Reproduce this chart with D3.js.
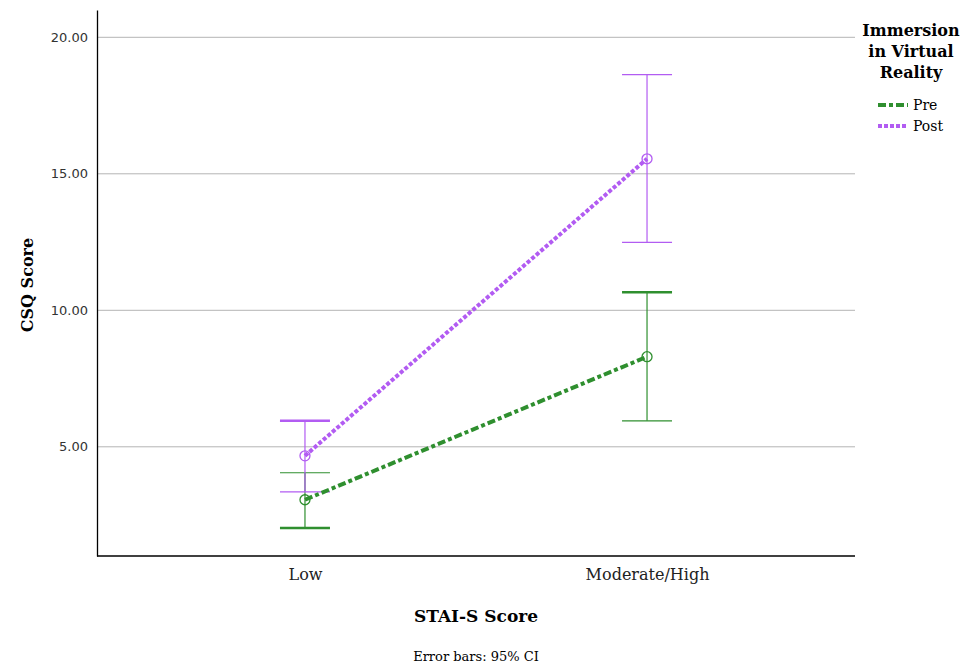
<!DOCTYPE html>
<html><head><meta charset="utf-8">
<script src="https://cdn.jsdelivr.net/npm/d3@7"></script>
<style>body{margin:0;background:#fff;}svg{display:block;}</style>
</head><body>
<script>
const categories = ["Low", "Moderate/High"];
const seriesNames = ["Pre", "Post"];
const preMean = [3.06, 8.30];
const preLow = [2.03, 5.95];
const preHigh = [4.05, 10.66];
const postMean = [4.67, 15.55];
const postLow = [3.35, 12.49];
const postHigh = [5.95, 18.63];
const yTicks = [5, 10, 15, 20];

(function () {
const W = 964, H = 666;
const SERIF = "DejaVu Serif, serif";
const svg = d3.select("body").append("svg").attr("width", W).attr("height", H);
const mLeft = 97, mRight = 855, mTop = 10, mBottom = 556;
const y = d3.scaleLinear().domain([1, 21]).range([mBottom, mTop]);
const x = d3.scalePoint().domain(categories).range([mLeft, mRight]).padding(0.608);

const green = "#2f8f2f", purple = "#b25cf2";

// gridlines
svg.append("g").selectAll("line").data(yTicks).join("line")
  .attr("x1", mLeft).attr("x2", mRight)
  .attr("y1", d => y(d)).attr("y2", d => y(d))
  .attr("stroke", "#b4b4b4").attr("stroke-width", 1);

// y axis
const yAxis = d3.axisLeft(y).tickValues(yTicks).tickSize(0).tickPadding(9).tickFormat(d3.format(".2f"));
const gy = svg.append("g").attr("transform", `translate(${mLeft},0)`).call(yAxis);
gy.select(".domain").attr("stroke", "#000").attr("stroke-width", 1.3);
gy.selectAll("text").attr("font-family", "DejaVu Sans, sans-serif").attr("font-size", 13).attr("fill", "#333");

// x axis
const xAxis = d3.axisBottom(x).tickSize(0).tickPadding(13);
const gx = svg.append("g").attr("transform", `translate(0,${mBottom})`).call(xAxis);
gx.select(".domain").attr("stroke", "#000").attr("stroke-width", 1.3).attr("d", `M${mLeft},0H${mRight}`);
gx.selectAll("text").attr("font-family", SERIF).attr("font-size", 16).attr("fill", "#222");

const series = [
  {name: seriesNames[0], mean: preMean, lo: preLow, hi: preHigh, color: green, dash: "8,3,4,3", width: 4, thickLo: [true, false], thickHi: [false, true]},
  {name: seriesNames[1], mean: postMean, lo: postLow, hi: postHigh, color: purple, dash: "4,2", width: 4, thickLo: [false, false], thickHi: [true, false]}
];

const capW = 25;
series.forEach(s => {
  const g = svg.append("g");
  categories.forEach((c, i) => {
    g.append("line").attr("x1", x(c)).attr("x2", x(c)).attr("y1", y(s.lo[i])).attr("y2", y(s.hi[i]))
      .attr("stroke", s.color).attr("stroke-width", 1.2);
    g.append("line").attr("x1", x(c) - capW).attr("x2", x(c) + capW).attr("y1", y(s.lo[i])).attr("y2", y(s.lo[i]))
      .attr("stroke", s.color).attr("stroke-width", s.thickLo[i] ? 2.5 : 1.2);
    g.append("line").attr("x1", x(c) - capW).attr("x2", x(c) + capW).attr("y1", y(s.hi[i])).attr("y2", y(s.hi[i]))
      .attr("stroke", s.color).attr("stroke-width", s.thickHi[i] ? 2.5 : 1.2);
  });
});
series.forEach(s => {
  const line = d3.line().x((d, i) => x(categories[i])).y(d => y(d));
  svg.append("path").datum(s.mean).attr("d", line).attr("fill", "none")
    .attr("stroke", s.color).attr("stroke-width", s.width).attr("stroke-dasharray", s.dash);
  svg.append("g").selectAll("circle").data(s.mean).join("circle")
    .attr("cx", (d, i) => x(categories[i])).attr("cy", d => y(d)).attr("r", 5)
    .attr("fill", "none").attr("stroke", s.color).attr("stroke-width", 1.3);
});

// axis titles
svg.append("text").attr("transform", `translate(33,${285}) rotate(-90)`)
  .attr("text-anchor", "middle").attr("font-family", SERIF).attr("font-weight", "bold")
  .attr("font-size", 16).text("CSQ Score");
svg.append("text").attr("x", 476).attr("y", 622).attr("text-anchor", "middle")
  .attr("font-family", SERIF).attr("font-weight", "bold").attr("font-size", 17).text("STAI-S Score");
svg.append("text").attr("x", 476).attr("y", 661).attr("text-anchor", "middle")
  .attr("font-family", SERIF).attr("font-size", 13).text("Error bars: 95% CI");

// legend
const lg = svg.append("g");
["Immersion", "in Virtual", "Reality"].forEach((t, i) => {
  lg.append("text").attr("x", 911).attr("y", 36 + i * 21).attr("text-anchor", "middle")
    .attr("font-family", SERIF).attr("font-weight", "bold").attr("font-size", 16).text(t);
});
series.forEach((s, i) => {
  const yy = 105 + i * 21;
  lg.append("line").attr("x1", 878).attr("x2", 908).attr("y1", yy).attr("y2", yy)
    .attr("stroke", s.color).attr("stroke-width", s.width).attr("stroke-dasharray", s.dash);
  lg.append("text").attr("x", 913).attr("y", yy + 5).attr("font-family", SERIF)
    .attr("font-size", 14).text(s.name);
});
})();
</script>
</body></html>
